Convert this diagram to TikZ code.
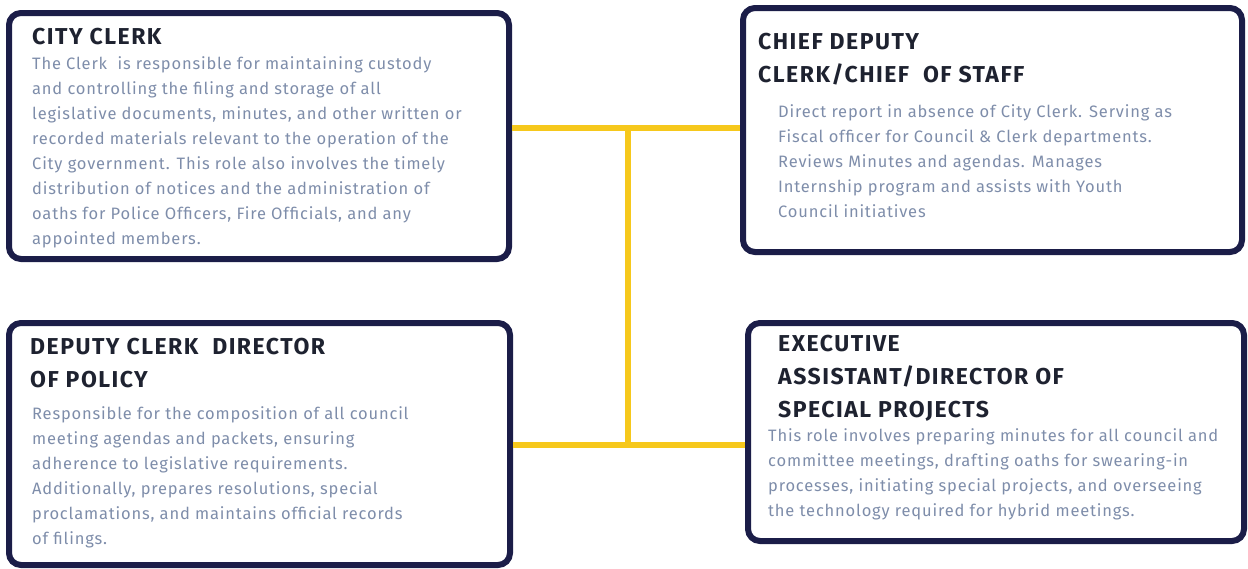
\documentclass[tikz,border=0pt]{standalone}
\usepackage{fontspec}
\setmainfont{Fira Sans}
\newfontfamily\bodyfont[LetterSpace=5]{Fira Sans}
\newfontfamily\headfont[LetterSpace=6.5]{Fira Sans}
\usetikzlibrary{positioning}
\definecolor{navy}{HTML}{1B1D48}
\definecolor{gold}{HTML}{F6C81C}
\definecolor{ink}{HTML}{1E2230}
\definecolor{slate}{HTML}{7E8DAA}

\tikzset{
  rolebox/.style={draw=navy, line width=6pt, rounded corners=12pt, inner sep=0pt},
  roletitle/.style={anchor=north west, inner sep=0pt, align=left, text=ink,
    font=\headfont\fontsize{23}{33}\selectfont\bfseries},
  roletext/.style={anchor=north west, inner sep=0pt, align=left, text=slate,
    font=\bodyfont\fontsize{16.5}{25}\selectfont},
  link/.style={draw=gold, line width=6pt}
}

\begin{document}
\begin{tikzpicture}[x=1pt, y=-1pt]
  \useasboundingbox (0,0) rectangle (1248,568);

  % the four role boxes
  \node[rolebox, minimum width=500pt, minimum height=246pt] (clerk) at (259,136) {};
  \node[rolebox, minimum width=499pt, minimum height=244pt] (chief) at (992.5,130) {};
  \node[rolebox, minimum width=501pt, minimum height=242pt] (policy) at (259.5,444) {};
  \node[rolebox, minimum width=496pt, minimum height=218pt] (exec) at (996,432) {};

  % titles
  \node[roletitle] (clerkT) at (32,28) {CITY CLERK};
  \node[roletitle] (chiefT) at (758,33) {CHIEF DEPUTY\\CLERK/CHIEF\ \ OF STAFF};
  \node[roletitle] (policyT) at (30,338) {DEPUTY CLERK\ \ DIRECTOR\\OF POLICY};
  \node[roletitle] (execT) at (778,335) {EXECUTIVE\\ASSISTANT/DIRECTOR OF\\SPECIAL PROJECTS};

  % descriptions
  \node[roletext] (clerkD) at (32,56) {The Clerk\ \ is responsible for maintaining custody\\
    and controlling the filing and storage of all\\
    legislative documents, minutes, and other written or\\
    recorded materials relevant to the operation of the\\
    City government. This role also involves the timely\\
    distribution of notices and the administration of\\
    oaths for Police Officers, Fire Officials, and any\\
    appointed members.};
  \node[roletext] (chiefD) at (778,104) {Direct report in absence of City Clerk. Serving as\\
    Fiscal officer for Council \& Clerk departments.\\
    Reviews Minutes and agendas. Manages\\
    Internship program and assists with Youth\\
    Council initiatives};
  \node[roletext] (policyD) at (32,406) {Responsible for the composition of all council\\
    meeting agendas and packets, ensuring\\
    adherence to legislative requirements.\\
    Additionally, prepares resolutions, special\\
    proclamations, and maintains official records\\
    of filings.};
  \node[roletext] (execD) at (768,428) {This role involves preparing minutes for all council and\\
    committee meetings, drafting oaths for swearing-in\\
    processes, initiating special projects, and overseeing\\
    the technology required for hybrid meetings.};

  % connectors
  \coordinate (jtop) at (628,128);
  \coordinate (jbot) at (628,445);
  \draw[link] (clerk.east |- jtop) -- (chief.west |- jtop);
  \draw[link] (policy.east |- jbot) -- (exec.west |- jbot);
  \draw[link] (jtop) -- (jbot);
\end{tikzpicture}
\end{document}
